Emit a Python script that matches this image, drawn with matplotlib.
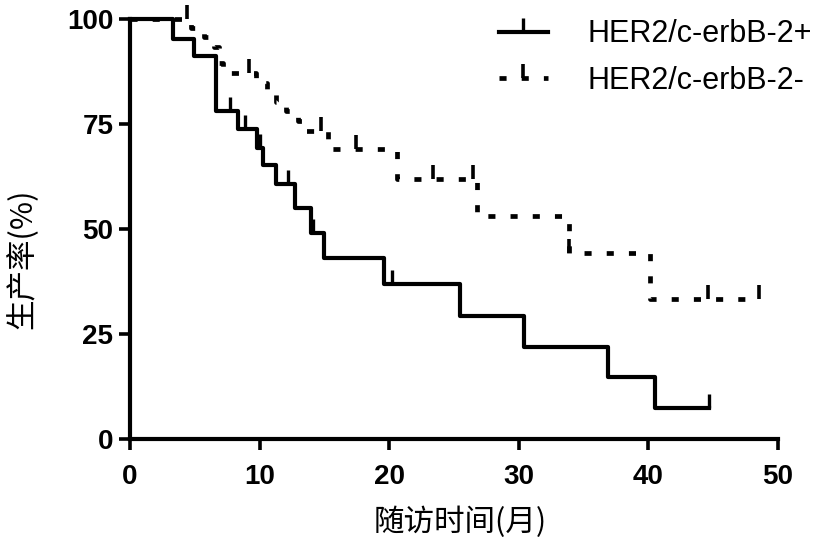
import numpy as np
import matplotlib
matplotlib.use("Agg")
import matplotlib.pyplot as plt
from matplotlib.path import Path
from matplotlib.lines import Line2D

# HER2/c-erbB-2+ (solid) : step times (months) and survival (%)
pos_time = [0, 3.3, 4.9, 6.6, 8.3, 9.8, 10.3, 11.3, 12.7, 14.0, 15.0, 19.6, 25.5, 30.4, 36.9, 40.5, 44.7]
pos_surv = [100, 95.3, 91.2, 78.2, 73.8, 69.4, 65.3, 60.8, 55.0, 49.0, 43.0, 37.0, 29.3, 22.0, 14.8, 7.4, 7.4]
pos_cens_t = [7.7, 8.9, 10.0, 12.2, 14.1, 20.2, 44.7]
pos_cens_s = [78.2, 73.8, 69.4, 60.8, 49.0, 37.0, 7.4]

# HER2/c-erbB-2- (dotted)
neg_time = [0, 4.7, 5.7, 6.5, 6.9, 7.2, 9.7, 10.6, 11.3, 12.0, 13.0, 13.5, 15.3, 20.6, 26.8, 33.9, 40.1, 48.5]
neg_surv = [100, 97.8, 95.6, 93.3, 89.5, 87.2, 84.8, 82.6, 80.3, 78.1, 75.8, 73.3, 69.0, 61.8, 53.2, 44.3, 33.3, 33.3]
neg_cens_t = [4.4, 9.2, 14.7, 17.4, 23.4, 26.5, 33.9, 44.6, 48.5]
neg_cens_s = [100, 87.2, 73.3, 69.0, 61.8, 61.8, 44.3, 33.3, 33.3]

labels = ["HER2/c-erbB-2+", "HER2/c-erbB-2-"]
xticks = [0, 10, 20, 30, 40, 50]
yticks = [0, 25, 50, 75, 100]

# upward censor tick
tick = Path([(0, 0), (0, 1)], [Path.MOVETO, Path.LINETO])
dots = (0, (1.5, 3.2))

fig = plt.figure(figsize=(8.27, 5.43), dpi=100)
ax = fig.add_axes([130 / 827, 1 - 439 / 543, 648 / 827, 420 / 543])

ax.step(pos_time, pos_surv, where="post", color="black", lw=3, clip_on=False)
ax.plot(pos_cens_t, pos_cens_s, ls="none", marker=tick, ms=20, mew=2.4,
        mfc="none", color="black", clip_on=False)

ax.step(neg_time, neg_surv, where="post", color="black", lw=3.4, ls=dots, clip_on=False)
ax.plot(neg_cens_t, neg_cens_s, ls="none", marker=tick, ms=20, mew=2.6,
        mfc="none", color="black", clip_on=False)

ax.set_xlim(0, 50)
ax.set_ylim(0, 100)
ax.set_xticks(xticks)
ax.set_yticks(yticks)
for s in ["top", "right"]:
    ax.spines[s].set_visible(False)
for s in ["left", "bottom"]:
    ax.spines[s].set_linewidth(3)
ax.tick_params(direction="out", length=8, width=2.6)
ax.tick_params(axis="x", pad=10)
ax.tick_params(axis="y", pad=4)
for lab in ax.get_xticklabels() + ax.get_yticklabels():
    lab.set_fontfamily("Liberation Sans")
    lab.set_fontweight("bold")
    lab.set_fontsize(20)

cjk = ["Noto Sans CJK SC", "DejaVu Sans"]
ax.set_xlabel("随访时间(月)", family=cjk, fontsize=22)
ax.set_ylabel("生产率(%)", family=cjk, fontsize=22)
ax.xaxis.set_label_coords(0.509, -0.16)
ax.yaxis.set_label_coords(-0.142, 0.43)

handles = [
    Line2D([], [], color="black", lw=3, marker=tick, ms=20, mew=2.4, mfc="none"),
    Line2D([], [], color="black", lw=3.4, ls=dots, marker=tick, ms=20, mew=2.6, mfc="none"),
]
leg = fig.legend(handles, labels, loc="upper right", bbox_to_anchor=(1.015, 1.015),
                 frameon=False, numpoints=1, handlelength=1.6, handletextpad=1.3,
                 labelspacing=0.55, prop={"family": "Liberation Sans", "size": 22})

fig.savefig("out.png", dpi=100)
